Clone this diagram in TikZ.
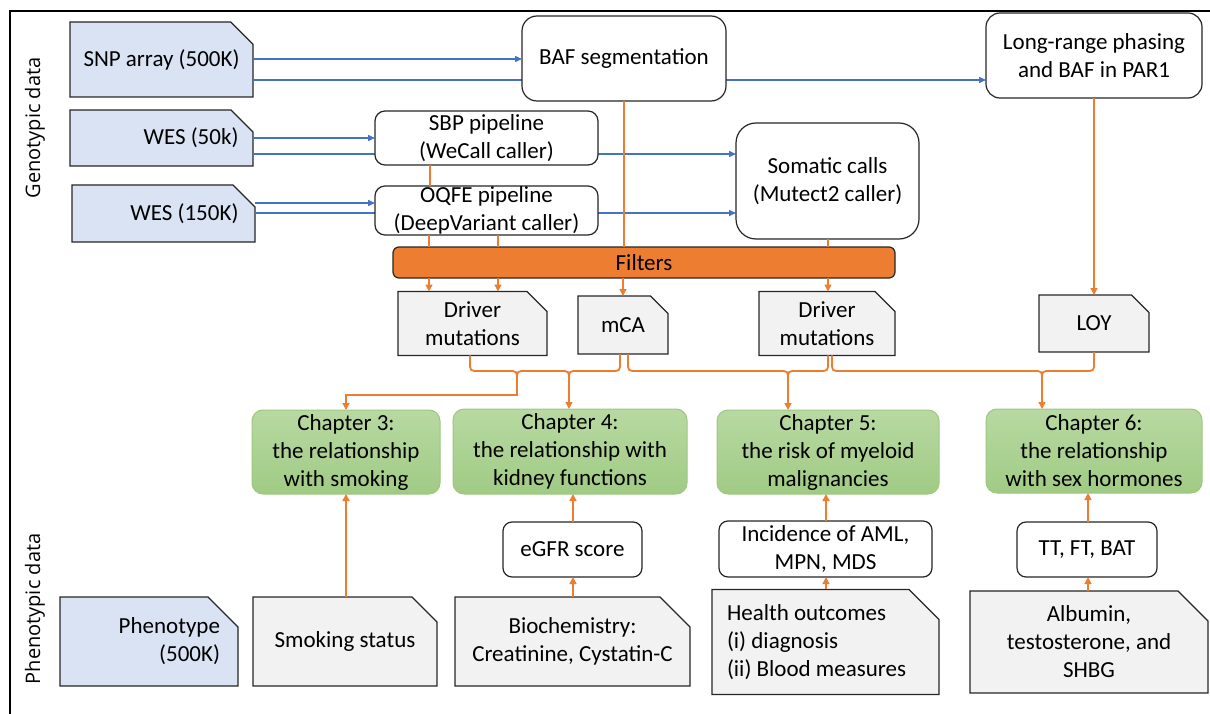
\documentclass[tikz,border=0pt]{standalone}
\usepackage{fontspec}
\setmainfont{Carlito}
\newfontfamily\labfont{Open Sans}
\usetikzlibrary{shapes.misc,arrows.meta}
\definecolor{gblue}{HTML}{DAE3F3}
\definecolor{ggray}{HTML}{F2F2F2}
\definecolor{gorange}{HTML}{ED7D31}
\definecolor{lblue}{HTML}{4472C4}
\definecolor{bord}{HTML}{262626}
\definecolor{gtop}{HTML}{B8D9A2}
\definecolor{gbot}{HTML}{A0CB84}
\definecolor{gedge}{HTML}{9CC77F}
\begin{document}
\begin{tikzpicture}[x=1pt,y=-1pt,
  every node/.style={font=\fontsize{23}{28}\selectfont, inner sep=0pt, outer sep=0pt, align=center},
  snipbox/.style={chamfered rectangle, chamfered rectangle corners=north east,
    chamfered rectangle xsep=#1, chamfered rectangle ysep=#1, draw=bord, line width=1.2pt},
  snipbox/.default=12pt,
  rbox/.style={rectangle, rounded corners=#1, draw=bord, line width=1.2pt, fill=white},
  rbox/.default=10pt,
  chap/.style={rectangle, rounded corners=11pt, draw=gedge, line width=1pt, top color=gtop, bottom color=gbot},
  barr/.style={draw=lblue, line width=1.5pt, -{Triangle[length=7pt,width=6pt]}},
  oline/.style={draw=gorange, line width=1.5pt},
  oarr/.style={draw=gorange, line width=1.5pt, -{Triangle[length=7pt,width=7pt]}},
  obr/.style={draw=gorange, line width=1.8pt}
]
\useasboundingbox (0,0) rectangle (1210,714);
\draw[line width=1.5pt] (10,714) -- (10,11) -- (1210,11);

% side labels
\node[rotate=90, font=\labfont\fontsize{20}{24}\selectfont] (gen) at (35,128) {Genotypic data};
\node[rotate=90, font=\labfont\fontsize{20}{24}\selectfont] (phe) at (35,609) {Phenotypic data};

% genotypic inputs
\node[snipbox, fill=gblue, minimum width=183pt, minimum height=75pt, text width=156pt, align=flush right] (snp) at (161.5,59.5) {SNP array (500K)};
\node[snipbox, fill=gblue, minimum width=183pt, minimum height=56pt, text width=154pt, align=flush right] (wes50) at (161.5,138) {WES (50k)};
\node[snipbox, fill=gblue, minimum width=183pt, minimum height=57pt, text width=150pt, align=flush right] (wes150) at (163.5,213.5) {WES (150K)};

% blue lines passing behind boxes (drawn first)
\draw[barr] (snp.east |- 0,80) -- (986,80) coordinate (lrpin);
\draw[barr] (wes50.east |- 0,154) -- (736,154) coordinate (somin1);
\draw[barr] (wes150.east |- 0,213) -- (736,213) coordinate (somin2);

% processing boxes
\node[rbox=15pt, minimum width=204pt, minimum height=85pt] (baf) at (624,58.5) {BAF segmentation};
\node[rbox=14pt, minimum width=216pt, minimum height=85pt] (lrp) at (1094,55.5) {Long-range phasing\\and BAF in PAR1};
\node[rbox=10pt, minimum width=223pt, minimum height=54pt] (sbp) at (486.5,138) {SBP pipeline\\(WeCall caller)};
\node[rbox=10pt, minimum width=223pt, minimum height=49pt] (oqfe) at (486.5,210.5) {OQFE pipeline\\(DeepVariant caller)};
\node[rbox=20pt, minimum width=183pt, minimum height=116pt] (som) at (827.5,181) {Somatic calls\\(Mutect2 caller)};

\draw[barr] (snp.east |- 0,59) -- (baf.west |- 0,59);
\draw[barr] (wes50.east |- 0,138) -- (sbp.west |- 0,138);
\draw[barr] (wes150.east |- 0,203) -- (oqfe.west |- 0,203);

\node[rectangle, rounded corners=6pt, draw=bord, line width=1.2pt, fill=gorange, minimum width=502pt, minimum height=31pt] (filt) at (644,262.5) {Filters};

% orange lines to filters
\draw[oline] (sbp.south -| 430,0) -- (oqfe.north -| 430,0);
\draw[oline] (baf.south) -- (filt.north -| baf.south);
\draw[oline] (oqfe.south -| 429,0) -- (filt.north -| 429,0);
\draw[oline] (oqfe.south -| 498,0) -- (filt.north -| 498,0);
\draw[oline] (som.south -| 828,0) -- (filt.north -| 828,0);

% outputs
\node[snipbox=10pt, fill=ggray, minimum width=149pt, minimum height=57pt] (dm1) at (472.5,323.5) {Driver\\mutations};
\node[snipbox=10pt, fill=ggray, minimum width=90pt, minimum height=58pt] (mca) at (623,325) {mCA};
\node[snipbox=10pt, fill=ggray, minimum width=136pt, minimum height=57pt] (dm2) at (827,323.5) {Driver\\mutations};
\node[snipbox=10pt, fill=ggray, minimum width=110pt, minimum height=57pt] (loy) at (1094,323.5) {LOY};

\draw[oarr] (filt.south -| 429,0) -- (dm1.north -| 429,0);
\draw[oarr] (filt.south -| 498,0) -- (dm1.north -| 498,0);
\draw[oarr] (filt.south -| mca.north) -- (mca.north);
\draw[oarr] (filt.south -| 828,0) -- (dm2.north -| 828,0);
\draw[oarr] (lrp.south) -- (loy.north);

% chapters
\node[chap, minimum width=188pt, minimum height=84pt] (ch3) at (346,452) {Chapter 3:\\the relationship\\with smoking};
\node[chap, minimum width=234pt, minimum height=85pt] (ch4) at (570,451.5) {Chapter 4:\\the relationship with\\kidney functions};
\node[chap, minimum width=222pt, minimum height=84pt] (ch5) at (828,452) {Chapter 5:\\the risk of myeloid\\malignancies};
\node[chap, minimum width=216pt, minimum height=84pt] (ch6) at (1094,451) {Chapter 6:\\the relationship\\with sex hormones};

% braces
\coordinate (t3) at (517,380);
\coordinate (t4) at (569,380);
\coordinate (t5) at (788,380);
\coordinate (t6) at (1042,380);
\draw[obr] (dm1.south -| 470,0) -- (470,362) .. controls (470,371) .. (479,371) -- (508,371)
  .. controls (517,371) .. (t3) .. controls (517,371) .. (526,371) -- (560,371)
  .. controls (569,371) .. (t4) .. controls (569,371) .. (578,371) -- (611,371)
  .. controls (620,371) .. (620,362) -- (mca.south -| 620,0);
\draw[obr] (mca.south -| 628,0) -- (628,362) .. controls (628,371) .. (637,371) -- (779,371)
  .. controls (788,371) .. (t5) .. controls (788,371) .. (797,371) -- (819,371)
  .. controls (828,371) .. (828,362) -- (dm2.south -| 828,0);
\draw[obr] (dm2.south -| 832,0) -- (832,362) .. controls (832,371) .. (841,371) -- (1033,371)
  .. controls (1042,371) .. (t6) .. controls (1042,371) .. (1051,371) -- (1085,371)
  .. controls (1094,371) .. (1094,362) -- (loy.south);
\draw[oarr] (t3) |- (ch3.north |- 0,395) -- (ch3.north);
\draw[oarr] (t4) -- (ch4.north -| t4);
\draw[oarr] (t5) -- (ch5.north -| t5);
\draw[oarr] (t6) -- (ch6.north -| t6);

% phenotypic inputs
\node[snipbox=15pt, fill=gblue, minimum width=178pt, minimum height=89pt, text width=142pt, align=flush right] (pheno) at (149,641.5) {Phenotype\\(500K)};
\node[snipbox=15pt, fill=ggray, minimum width=184pt, minimum height=89pt] (smoke) at (345,641.5) {Smoking status};
\node[snipbox=15pt, fill=ggray, minimum width=235pt, minimum height=89pt] (bio) at (572.5,641.5) {Biochemistry:\\Creatinine, Cystatin-C};
\node[snipbox=15pt, fill=ggray, minimum width=217pt, minimum height=90pt, text width=197pt, align=flush left] (health) at (825.5,642) {Health outcomes\\(i) diagnosis\\(ii) Blood measures};
\node[snipbox=15pt, fill=ggray, minimum width=238pt, minimum height=90pt] (alb) at (1089,642) {Albumin,\\testosterone, and\\SHBG};

\node[rbox=9pt, minimum width=139pt, minimum height=55pt] (egfr) at (572.5,549.5) {eGFR score};
\node[rbox=9pt, minimum width=213pt, minimum height=56pt] (inc) at (825.5,549) {Incidence of AML,\\MPN, MDS};
\node[rbox=9pt, minimum width=140pt, minimum height=55pt] (tt) at (1087,549.5) {TT, FT, BAT};

\draw[oarr] (smoke.north -| 346,0) -- (ch3.south -| 346,0);
\draw[oarr] (bio.north -| 573,0) -- (egfr.south -| 573,0);
\draw[oarr] (egfr.north -| 573,0) -- (ch4.south -| 573,0);
\draw[oarr] (health.north -| 826,0) -- (inc.south -| 826,0);
\draw[oarr] (inc.north -| 826,0) -- (ch5.south -| 826,0);
\draw[oarr] (alb.north -| 1088,0) -- (tt.south -| 1088,0);
\draw[oarr] (tt.north -| 1088,0) -- (ch6.south -| 1088,0);
\end{tikzpicture}
\end{document}
